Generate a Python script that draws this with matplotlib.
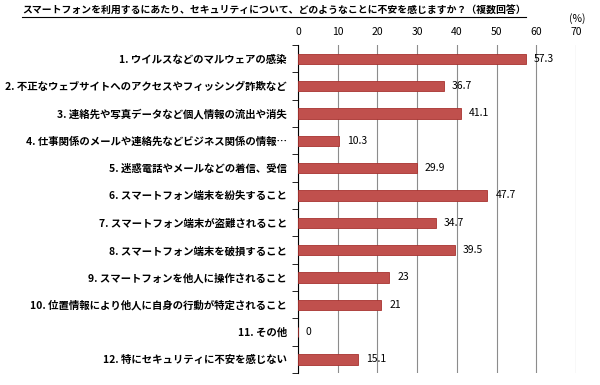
import matplotlib.pyplot as plt

plt.rcParams['font.family'] = ['Noto Sans CJK JP', 'DejaVu Sans']

labels = [
    "1. ウイルスなどのマルウェアの感染",
    "2. 不正なウェブサイトへのアクセスやフィッシング詐欺など",
    "3. 連絡先や写真データなど個人情報の流出や消失",
    "4. 仕事関係のメールや連絡先などビジネス関係の情報…",
    "5. 迷惑電話やメールなどの着信、受信",
    "6. スマートフォン端末を紛失すること",
    "7. スマートフォン端末が盗難されること",
    "8. スマートフォン端末を破損すること",
    "9. スマートフォンを他人に操作されること",
    "10. 位置情報により他人に自身の行動が特定されること",
    "11. その他",
    "12. 特にセキュリティに不安を感じない",
]
values = [57.3, 36.7, 41.1, 10.3, 29.9, 47.7, 34.7, 39.5, 23, 21, 0, 15.1]
value_text = ["57.3", "36.7", "41.1", "10.3", "29.9", "47.7", "34.7", "39.5", "23", "21", "0", "15.1"]
xticks = [0, 10, 20, 30, 40, 50, 60, 70]

fig = plt.figure(figsize=(6, 3.85), dpi=100)
ax = fig.add_axes([0.4967, 0.031, 0.4633, 0.852])

y = list(range(len(labels)))
ax.barh(y, values, height=0.38, color="#C0504D", edgecolor="#A8322F", linewidth=0.6, zorder=3)
for yi, v, t in zip(y, values, value_text):
    ax.text(v + 2.0, yi, t, va="center", ha="left", fontsize=7.5, color="black")

ax.set_xlim(0, 70)
ax.set_ylim(len(labels) - 0.5, -0.5)
ax.set_xticks(xticks)
ax.xaxis.tick_top()
ax.tick_params(axis="x", length=0, labelsize=7.5, pad=6)
ax.grid(axis="x", color="#8c8c8c", linewidth=0.8, zorder=0)

ax.set_yticks(y)
ax.set_yticklabels(labels, fontsize=7.5, fontweight="bold")
ax.tick_params(axis="y", length=0, pad=8)
ax.set_yticks([i - 0.5 for i in range(len(labels) + 1)], minor=True)
ax.tick_params(axis="y", which="minor", length=4, direction="out", color="black")

for s in ["top", "right", "bottom"]:
    ax.spines[s].set_visible(False)
ax.spines["left"].set_color("black")

title = fig.text(0.037, 0.972, "スマートフォンを利用するにあたり、セキュリティについて、どのようなことに不安を感じますか？（複数回答）",
                 fontsize=7.1, fontweight="bold", ha="left", va="center")
fig.canvas.draw()
bb = title.get_window_extent().transformed(fig.transFigure.inverted())
fig.add_artist(plt.Line2D([bb.x0, bb.x1], [bb.y0 - 0.004, bb.y0 - 0.004], color="black", linewidth=0.8))
fig.text(0.962, 0.952, "(%)", fontsize=7.5, ha="center", va="center")

fig.savefig("out.png", dpi=100)
